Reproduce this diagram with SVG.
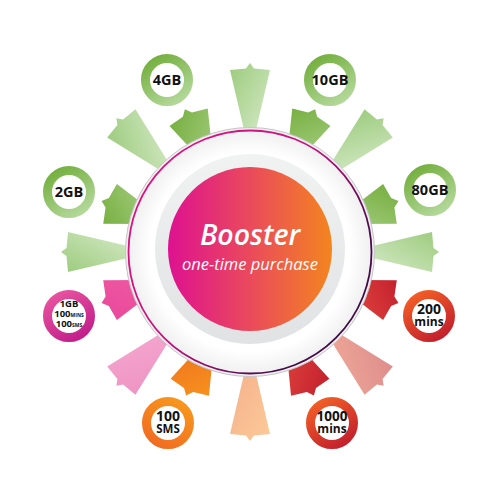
<svg xmlns="http://www.w3.org/2000/svg" width="500" height="500" viewBox="0 0 500 500">
<defs>
<style>
.bt{font-family:"Open Sans","Liberation Sans",sans-serif;font-weight:700;fill:#111;text-anchor:middle}
.ct{font-family:"Open Sans","Liberation Sans",sans-serif;font-style:italic;fill:#fff;text-anchor:middle}
</style>
<path id="longRay" d="M-5,-118 L5,-118 L20,-182 L4,-183.5 L0,-189 L-4,-183.5 L-20,-182 Z"/>
<path id="shortRay" d="M-9,-112 L9,-112 L21,-148 L5,-151 L0,-157 L-5,-151 L-21,-148 Z"/>
<linearGradient id="lGreen" x1="0" y1="0" x2="1" y2="1"><stop offset="0" stop-color="#9ccb7d"/><stop offset="1" stop-color="#d6eac8"/></linearGradient>
<linearGradient id="lSalmon" x1="0" y1="0" x2="1" y2="1"><stop offset="0" stop-color="#dd8c8c"/><stop offset="1" stop-color="#f0aa98"/></linearGradient>
<linearGradient id="lPeach" x1="0" y1="0" x2="1" y2="1"><stop offset="0" stop-color="#fcca98"/><stop offset="1" stop-color="#f5b08c"/></linearGradient>
<linearGradient id="lPink" x1="0" y1="0" x2="1" y2="1"><stop offset="0" stop-color="#ee93c3"/><stop offset="1" stop-color="#f6a8d0"/></linearGradient>
<linearGradient id="sGreen" x1="0" y1="0" x2="1" y2="1"><stop offset="0" stop-color="#74ad3c"/><stop offset="1" stop-color="#a2cc7e"/></linearGradient>
<linearGradient id="sRed" x1="0" y1="0" x2="1" y2="1"><stop offset="0" stop-color="#c01e2c"/><stop offset="1" stop-color="#e0443e"/></linearGradient>
<linearGradient id="sOrange" x1="0" y1="0" x2="1" y2="1"><stop offset="0" stop-color="#f7941e"/><stop offset="1" stop-color="#ef741f"/></linearGradient>
<linearGradient id="sPink" x1="0" y1="0" x2="1" y2="1"><stop offset="0" stop-color="#e9479a"/><stop offset="1" stop-color="#ef5ba3"/></linearGradient>
<linearGradient id="rGreen" x1="0.2" y1="0" x2="0.8" y2="1"><stop offset="0" stop-color="#76b041"/><stop offset="1" stop-color="#b3d89a"/></linearGradient>
<linearGradient id="rRed" x1="0.2" y1="0" x2="0.8" y2="1"><stop offset="0" stop-color="#f15c26"/><stop offset="1" stop-color="#c3212d"/></linearGradient>
<linearGradient id="rOrange" x1="0.8" y1="0" x2="0.2" y2="1"><stop offset="0" stop-color="#f7961d"/><stop offset="1" stop-color="#f16c22"/></linearGradient>
<linearGradient id="rPink" x1="0.2" y1="0" x2="0.8" y2="1"><stop offset="0" stop-color="#e6519f"/><stop offset="1" stop-color="#c21f8b"/></linearGradient>
<linearGradient id="core" x1="0" y1="0" x2="1" y2="0"><stop offset="0" stop-color="#de1190"/><stop offset="0.5" stop-color="#ea4a5c"/><stop offset="1" stop-color="#f3851f"/></linearGradient>
<linearGradient id="grayRing" x1="0" y1="0" x2="0" y2="1"><stop offset="0" stop-color="#f1f2f2"/><stop offset="1" stop-color="#e1e2e3"/></linearGradient>
<radialGradient id="disc" cx="0.5" cy="0.5" r="0.5"><stop offset="0.8" stop-color="#ffffff"/><stop offset="1" stop-color="#eeeeef"/></radialGradient>
<linearGradient id="line" gradientUnits="userSpaceOnUse" x1="140" y1="160" x2="370" y2="330"><stop offset="0" stop-color="#e0117f"/><stop offset="0.45" stop-color="#c5137e"/><stop offset="0.8" stop-color="#4a0c4c"/><stop offset="1" stop-color="#3a0a42"/></linearGradient>
</defs>
<rect width="500" height="500" fill="#fff"/>
<g id="rays">
<use href="#longRay" transform="translate(250,252) rotate(0)" fill="url(#lGreen)"/>
<use href="#longRay" transform="translate(250,252) rotate(45)" fill="url(#lGreen)"/>
<use href="#longRay" transform="translate(250,252) rotate(90)" fill="url(#lGreen)"/>
<use href="#longRay" transform="translate(250,252) rotate(135)" fill="url(#lSalmon)"/>
<use href="#longRay" transform="translate(250,252) rotate(180)" fill="url(#lPeach)"/>
<use href="#longRay" transform="translate(250,252) rotate(225)" fill="url(#lPink)"/>
<use href="#longRay" transform="translate(250,252) rotate(270)" fill="url(#lGreen)"/>
<use href="#longRay" transform="translate(250,252) rotate(315)" fill="url(#lGreen)"/>
</g>
<g id="connectors">
<use href="#shortRay" transform="translate(250,252) rotate(24.5)" fill="url(#sGreen)"/>
<use href="#shortRay" transform="translate(250,252) rotate(71)" fill="url(#sGreen)"/>
<use href="#shortRay" transform="translate(250,252) rotate(109)" fill="url(#sRed)"/>
<use href="#shortRay" transform="translate(250,252) rotate(156)" fill="url(#sRed)"/>
<use href="#shortRay" transform="translate(250,252) rotate(204)" fill="url(#sOrange)"/>
<use href="#shortRay" transform="translate(250,252) rotate(251)" fill="url(#sPink)"/>
<use href="#shortRay" transform="translate(250,252) rotate(289)" fill="url(#sGreen)"/>
<use href="#shortRay" transform="translate(250,252) rotate(335.5)" fill="url(#sGreen)"/>
</g>
<g id="booster">
<circle cx="250" cy="252" r="124.5" fill="url(#disc)" stroke="#c4c4c6" stroke-width="1"/>
<circle cx="250" cy="252" r="121.5" fill="none" stroke="url(#line)" stroke-width="1.8"/>
<circle cx="250" cy="249" r="95" fill="url(#grayRing)"/>
<circle cx="250" cy="249" r="82" fill="url(#core)"/>
<text class="ct" x="250" y="245" font-size="28.5" font-weight="600">Booster</text>
<text class="ct" x="250" y="270" font-size="16.5">one-time purchase</text>
</g>
<g id="b4GB">
<circle cx="167" cy="80" r="21.5" fill="#fff" stroke="url(#rGreen)" stroke-width="9"/>
<text class="bt" x="167" y="85" font-size="14.5">4GB</text>
</g>
<g id="b10GB">
<circle cx="330" cy="80" r="21.5" fill="#fff" stroke="url(#rGreen)" stroke-width="9"/>
<text class="bt" x="330" y="85" font-size="14.5">10GB</text>
</g>
<g id="b80GB">
<circle cx="430" cy="190" r="21.5" fill="#fff" stroke="url(#rGreen)" stroke-width="9"/>
<text class="bt" x="430" y="195" font-size="14.5">80GB</text>
</g>
<g id="b200mins">
<circle cx="429" cy="316" r="21.5" fill="#fff" stroke="url(#rRed)" stroke-width="9"/>
<text class="bt" font-size="14"><tspan x="429" y="314">200</tspan><tspan x="429" y="326" font-size="12">mins</tspan></text>
</g>
<g id="b1000mins">
<circle cx="332" cy="423" r="21.5" fill="#fff" stroke="url(#rRed)" stroke-width="9"/>
<text class="bt" font-size="13.5"><tspan x="332" y="421">1000</tspan><tspan x="332" y="433" font-size="12">mins</tspan></text>
</g>
<g id="b100SMS">
<circle cx="168" cy="423" r="21.5" fill="#fff" stroke="url(#rOrange)" stroke-width="9"/>
<text class="bt" font-size="14"><tspan x="168" y="421">100</tspan><tspan x="168" y="433" font-size="11.5">SMS</tspan></text>
</g>
<g id="b1GB">
<circle cx="69" cy="316" r="21.5" fill="#fff" stroke="url(#rPink)" stroke-width="9"/>
<text class="bt" font-size="9.5"><tspan x="69" y="307">1GB</tspan><tspan x="69" y="317">100<tspan font-size="5">MINS</tspan></tspan><tspan x="69" y="326.5">100<tspan font-size="5">SMS</tspan></tspan></text>
</g>
<g id="b2GB">
<circle cx="69" cy="192" r="21.5" fill="#fff" stroke="url(#rGreen)" stroke-width="9"/>
<text class="bt" x="69" y="197" font-size="14.5">2GB</text>
</g>
</svg>
